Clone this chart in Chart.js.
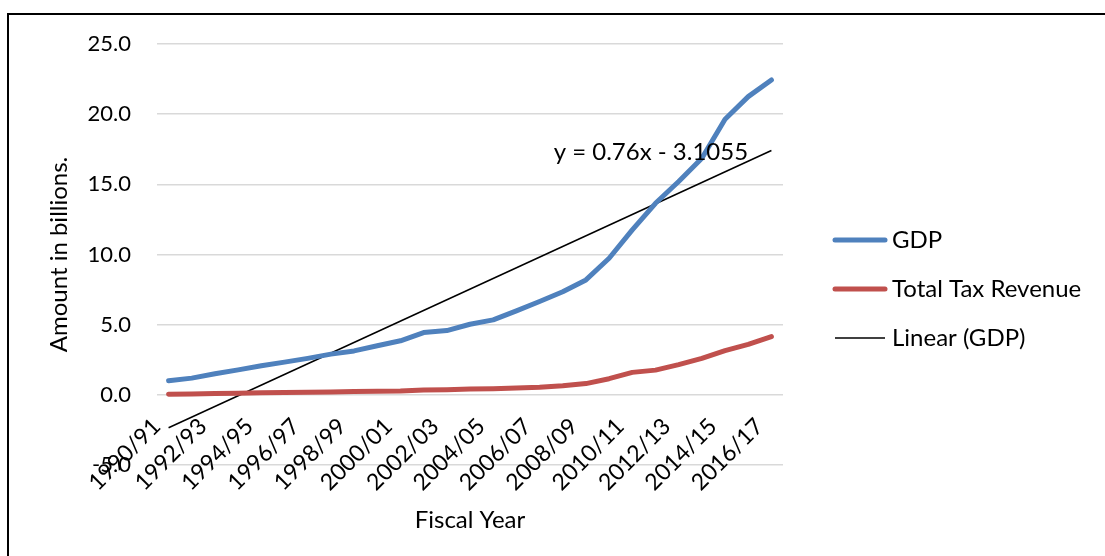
<!DOCTYPE html>
<html>
<head>
<meta charset="utf-8">
<script src="https://cdn.jsdelivr.net/npm/chart.js@4.4.0/dist/chart.umd.min.js"></script>
<style>
  html, body { margin:0; padding:0; background:#fff; }
  #wrap { position:relative; width:1105px; height:556px; overflow:hidden; }
  #frame { position:absolute; left:7px; top:13px; width:1200px; height:600px; border-left:2px solid #000; border-top:2px solid #000; pointer-events:none; }
</style>
</head>
<body>
<div id="wrap">
  <canvas id="chart" width="1105" height="556"></canvas>
  <div id="frame"></div>
</div>
<script>
const years = ['1990/91','1991/92','1992/93','1993/94','1994/95','1995/96','1996/97','1997/98','1998/99','1999/00',
  '2000/01','2001/02','2002/03','2003/04','2004/05','2005/06','2006/07','2007/08','2008/09','2009/10',
  '2010/11','2011/12','2012/13','2013/14','2014/15','2015/16','2016/17'];
const gdp = [1.0, 1.19, 1.5, 1.78, 2.07, 2.33, 2.6, 2.9, 3.13, 3.5, 3.85, 4.44, 4.58, 5.03, 5.34, 5.98,
  6.65, 7.35, 8.19, 9.73, 11.75, 13.65, 15.2, 16.86, 19.64, 21.25, 22.44];
const taxRevenue = [0.05, 0.06, 0.09, 0.11, 0.14, 0.17, 0.19, 0.21, 0.23, 0.26, 0.28, 0.35, 0.37, 0.41, 0.44,
  0.48, 0.54, 0.64, 0.8, 1.15, 1.6, 1.76, 2.15, 2.6, 3.15, 3.6, 4.15];
// Excel linear trendline shown on the chart: y = 0.76x - 3.1055 (x = 1..27)
const trendSlope = 0.76, trendIntercept = -3.1055;
const trendLabel = 'y = 0.76x - 3.1055';
const yTicks = [-5, 0, 5, 10, 15, 20, 25];

const trend = years.map((_, i) => (i === 0 || i === years.length - 1) ? trendSlope * (i + 1) + trendIntercept : null);

const FONT = 'Lato';
const BLUE = '#4F81BD', RED = '#C0504D';

const extras = {
  id: 'extras',
  afterDraw(chart){
    const ctx = chart.ctx, x = chart.scales.x, y = chart.scales.y;
    ctx.save();
    ctx.font = '24px ' + FONT;
    ctx.fillStyle = '#000';
    ctx.textBaseline = 'middle';
    // trendline equation
    ctx.textAlign = 'center';
    ctx.fillText(trendLabel, x.getPixelForValue(20.8), y.getPixelForValue(17.3));
    // legend
    ctx.textAlign = 'left';
    const rows = [240, 289, 338];
    chart.data.datasets.forEach((ds, i) => {
      const yy = rows[i];
      ctx.beginPath();
      ctx.strokeStyle = ds.borderColor;
      ctx.lineWidth = ds.borderWidth;
      ctx.lineCap = ds.borderWidth > 2 ? 'round' : 'butt';
      ctx.moveTo(835, yy); ctx.lineTo(885, yy);
      ctx.stroke();
      ctx.fillText(ds.label, 892, yy);
    });
    ctx.restore();
  }
};

new Chart(document.getElementById('chart'), {
  type: 'line',
  data: {
    labels: years,
    datasets: [
      { label:'GDP', data:gdp, borderColor:BLUE, backgroundColor:BLUE, borderWidth:5, pointRadius:0, tension:0, borderCapStyle:'round', borderJoinStyle:'round' },
      { label:'Total Tax Revenue', data:taxRevenue, borderColor:RED, backgroundColor:RED, borderWidth:5, pointRadius:0, tension:0, borderCapStyle:'round', borderJoinStyle:'round' },
      { label:'Linear (GDP)', data:trend, borderColor:'#000', backgroundColor:'#000', borderWidth:1.5, pointRadius:0, spanGaps:true }
    ]
  },
  options: {
    responsive:false, animation:false,
    layout:{ padding:{ left:0, top:44, right:322, bottom:91 } },
    plugins:{ legend:{ display:false }, tooltip:{ enabled:false } },
    scales:{
      x:{
        position:{ y:0 }, offset:true,
        grid:{ display:false }, border:{ display:false },
        ticks:{ autoSkip:false, maxRotation:45, minRotation:45, padding:10, labelOffset:-12, color:'#000',
          font:{ family:FONT, size:23 },
          callback:(v, i) => i % 2 === 0 ? years[i] : '' },
        title:{ display:true, text:'Fiscal Year', color:'#000', font:{ family:FONT, size:24 }, padding:{ top:0, bottom:0 } }
      },
      y:{
        min:-5, max:25,
        afterBuildTicks: s => { s.ticks = yTicks.map(v => ({ value:v })); },
        afterFit: s => { s.width = 157; },
        grid:{ color:'#D9D9D9', lineWidth:1.5, drawTicks:false },
        border:{ display:false },
        ticks:{ padding:26, color:'#000', font:{ family:FONT, size:22 }, callback: v => v.toFixed(1) },
        title:{ display:true, text:'Amount in billions.', color:'#000', font:{ family:FONT, size:24 }, padding:{ top:45, bottom:0 } }
      }
    }
  },
  plugins:[extras]
});
</script>
</body>
</html>
